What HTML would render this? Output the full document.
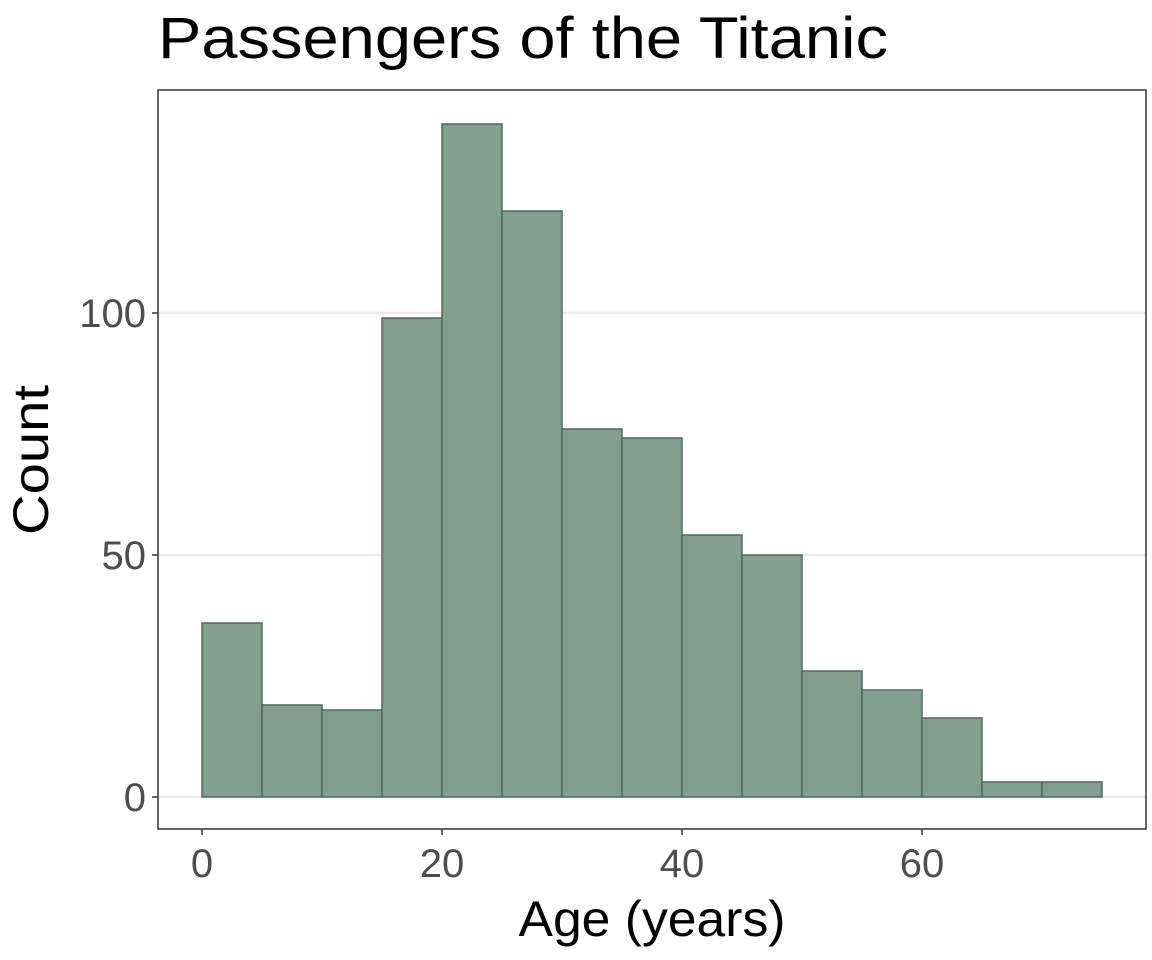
<!DOCTYPE html>
<html><head><style>body{margin:0;background:#fff}svg{display:block}</style></head>
<body>
<svg width="1152" height="960" xmlns="http://www.w3.org/2000/svg" font-family="Liberation Sans, sans-serif">
<rect width="1152" height="960" fill="#fff"/>
<text x="158" y="58" font-size="58" fill="#000" textLength="730" lengthAdjust="spacingAndGlyphs">Passengers of the Titanic</text>
<g stroke="#ebebeb" stroke-width="2.5">
<line x1="158" x2="1146" y1="797" y2="797"/>
<line x1="158" x2="1146" y1="555" y2="555"/>
<line x1="158" x2="1146" y1="313" y2="313"/>
</g>
<g fill="#839f91" stroke="#4f6a5c" stroke-width="1.5">
<rect x="202" y="623" width="60" height="174"/>
<rect x="262" y="705" width="60" height="92"/>
<rect x="322" y="710" width="60" height="87"/>
<rect x="382" y="318" width="60" height="479"/>
<rect x="442" y="124" width="60" height="673"/>
<rect x="502" y="211" width="60" height="586"/>
<rect x="562" y="429" width="60" height="368"/>
<rect x="622" y="438" width="60" height="359"/>
<rect x="682" y="535" width="60" height="262"/>
<rect x="742" y="555" width="60" height="242"/>
<rect x="802" y="671" width="60" height="126"/>
<rect x="862" y="690" width="60" height="107"/>
<rect x="922" y="718" width="60" height="79"/>
<rect x="982" y="782" width="60" height="15"/>
<rect x="1042" y="782" width="60" height="15"/>
</g>
<rect x="158" y="90" width="988" height="739" fill="none" stroke="#333" stroke-width="1.5"/>
<g stroke="#333" stroke-width="1.5">
<line x1="152" x2="158" y1="797" y2="797"/><line x1="152" x2="158" y1="555" y2="555"/><line x1="152" x2="158" y1="313" y2="313"/>
<line x1="202" x2="202" y1="829" y2="835"/><line x1="442" x2="442" y1="829" y2="835"/><line x1="682" x2="682" y1="829" y2="835"/><line x1="922" x2="922" y1="829" y2="835"/>
</g>
<g font-size="40" fill="#4d4d4d">
<text x="146" y="811" text-anchor="end">0</text>
<text x="146" y="569" text-anchor="end">50</text>
<text x="146" y="327" text-anchor="end">100</text>
<text x="202" y="877" text-anchor="middle">0</text>
<text x="442" y="877" text-anchor="middle">20</text>
<text x="682" y="877" text-anchor="middle">40</text>
<text x="922" y="877" text-anchor="middle">60</text>
</g>
<text x="652" y="936" font-size="50" text-anchor="middle" fill="#000" textLength="267" lengthAdjust="spacingAndGlyphs">Age (years)</text>
<text transform="translate(48,460) rotate(-90)" font-size="50" text-anchor="middle" fill="#000" textLength="150" lengthAdjust="spacingAndGlyphs">Count</text>
</svg>
</body></html>
